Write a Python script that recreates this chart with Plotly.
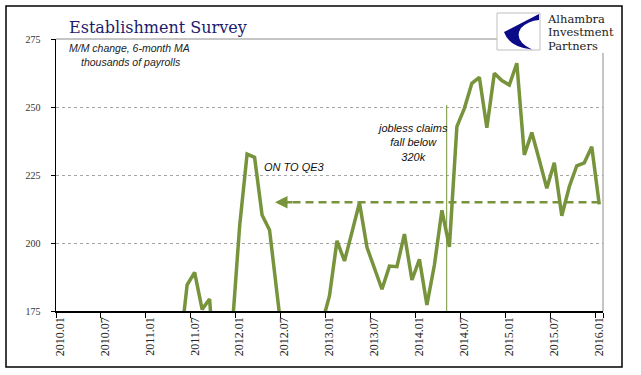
import plotly.graph_objects as go

# ---------------- data ----------------
months = [f"{2010 + k // 12}.{k % 12 + 1:02d}" for k in range(73)]
payroll_ma = [
    -95, -60, -20, 40, 95, 105, 110, 95, 60, 30, 25, 55,          # 2010
    100, 115, 135, 150, 160, 184.6, 189.2, 175.6, 179.4, 140, 150, 168,  # 2011
    206, 232.7, 231.5, 210.3, 204.8, 181, 158, 150, 145, 150, 160, 171,  # 2012
    180.6, 200.8, 193.4, 204, 214.8, 198.4, 191, 183, 191.5, 191.3, 203.3, 186.4,  # 2013
    194, 177.2, 191.9, 212, 198.6, 242.8, 249.5, 258.7, 260.9, 242.4, 262.4, 259.7,  # 2014
    258.1, 266.1, 232.4, 240.6, 230.5, 220.1, 229.5, 210, 220.7, 228.4, 229.5, 235.4,  # 2015
    214.2,  # 2016.01
]
tick_labels = ["2010.01", "2010.07", "2011.01", "2011.07", "2012.01", "2012.07",
               "2013.01", "2013.07", "2014.01", "2014.07", "2015.01", "2015.07", "2016.01"]
y_ticks = [175, 200, 225, 250, 275]
ref_level = 215          # dashed reference level
claims_index = 51.64     # position of "jobless claims" marker (category index)
qe3_index = 28.73        # arrow tip (category index)

GREEN = "#77933C"
W, H = 641, 375
L, R, T, B = 56, 38, 39, 64
PW, PH = W - L - R, H - T - B


def pxx(x):
    return (x - L) / PW


def pxy(y):
    return (H - B - y) / PH


fig = go.Figure()
fig.add_trace(go.Scatter(x=months, y=payroll_ma, mode="lines",
                         line=dict(color=GREEN, width=3.5), hoverinfo="skip"))

shapes = []
# outer frame
shapes.append(dict(type="rect", xref="paper", yref="paper", x0=pxx(6), x1=pxx(622),
                   y0=pxy(367), y1=pxy(6), line=dict(color="black", width=1.5), layer="below"))
# plot-area top & right border (gray)
shapes.append(dict(type="line", xref="paper", yref="paper", x0=0, x1=pxx(497), y0=1, y1=1,
                   line=dict(color="#8C8C8C", width=1)))
shapes.append(dict(type="line", xref="paper", yref="paper", x0=1, x1=1, y0=0, y1=pxy(53),
                   line=dict(color="#8C8C8C", width=1)))
# vertical marker line
shapes.append(dict(type="line", xref="x", yref="y", x0=claims_index, x1=claims_index,
                   y0=175, y1=250.7, line=dict(color=GREEN, width=1)))
# dashed reference line
shapes.append(dict(type="line", xref="x", yref="y", x0=qe3_index + 0.6, x1=len(months) - 1,
                   y0=ref_level, y1=ref_level, line=dict(color=GREEN, width=2.5, dash="8px,5px")))
# logo box
shapes.append(dict(type="rect", xref="paper", yref="paper", x0=pxx(497), x1=pxx(540),
                   y0=pxy(50), y1=pxy(13), fillcolor="white",
                   line=dict(color="#BFBFBF", width=1)))


def path(pts):
    segs = []
    for cmd, coords in pts:
        c = " ".join(f"{pxx(coords[i]):.5f},{pxy(coords[i + 1]):.5f}" for i in range(0, len(coords), 2))
        segs.append(f"{cmd} {c}")
    return " ".join(segs) + " Z"


logo_path = path([
    ("M", (539, 14)),
    ("L", (504, 32)),
    ("Q", (509, 47, 532, 49.5)),
    ("Q", (513, 40, 521, 28)),
    ("Q", (528, 21, 539, 20)),
])
shapes.append(dict(type="path", xref="paper", yref="paper", path=logo_path,
                   fillcolor="#0B0B8A", line=dict(width=0)))

logo_span = '<span style="font-size:11.5px">{}</span>'
logo_text = "<br>".join(logo_span.format(t) for t in ["Alhambra", "Investment", "Partners"])

annotations = [
    dict(text="Establishment Survey", x=pxx(67), y=pxy(28), xref="paper", yref="paper",
         xanchor="left", yanchor="middle", showarrow=False,
         font=dict(family="DejaVu Serif", size=16, color="#1C1C6E")),
    dict(text="<i>M/M change, 6-month MA</i>", x=pxx(67), y=pxy(48), xref="paper", yref="paper",
         xanchor="left", yanchor="middle", showarrow=False,
         font=dict(family="Liberation Sans", size=10.5, color="#222222")),
    dict(text="<i>thousands of payrolls</i>", x=pxx(79), y=pxy(62), xref="paper", yref="paper",
         xanchor="left", yanchor="middle", showarrow=False,
         font=dict(family="Liberation Sans", size=10.5, color="#222222")),
    dict(text="<i>ON TO QE3</i>", x=pxx(262), y=pxy(167), xref="paper", yref="paper",
         xanchor="left", yanchor="middle", showarrow=False,
         font=dict(family="Liberation Sans", size=11, color="#111111")),
    dict(text="<i>jobless claims<br>fall below<br>320k</i>", x=pxx(412), y=pxy(142),
         xref="paper", yref="paper", xanchor="center", yanchor="middle", align="center",
         showarrow=False, font=dict(family="Liberation Sans", size=11, color="#111111")),
    dict(text=logo_text, x=pxx(545), y=pxy(32.5), xref="paper", yref="paper",
         xanchor="left", yanchor="middle", align="left", showarrow=False,
         font=dict(family="DejaVu Serif", size=10.3, color="#222222")),
    # arrow head
    dict(text="", x=qe3_index, y=ref_level, ax=qe3_index + 2.5, ay=ref_level,
         xref="x", yref="y", axref="x", ayref="y", showarrow=True,
         arrowhead=2, arrowsize=1, arrowwidth=2.5, arrowcolor=GREEN),
]

fig.update_layout(
    width=W, height=H, autosize=False,
    margin=dict(l=L, r=R, t=T, b=B, pad=0),
    paper_bgcolor="white", plot_bgcolor="white",
    showlegend=False, hovermode=False,
    shapes=shapes, annotations=annotations,
    xaxis=dict(type="category", range=[-0.5, len(months) - 0.5],
               tickmode="array", tickvals=tick_labels, ticktext=tick_labels,
               tickson="boundaries", ticks="outside", ticklen=5, tickcolor="black",
               tickangle=-90, showline=True, linecolor="black", linewidth=1.5,
               showgrid=False, zeroline=False,
               tickfont=dict(family="Liberation Serif", size=12, color="#222222")),
    yaxis=dict(range=[175, 275], tickmode="array", tickvals=y_ticks,
               ticks="outside", ticklen=4, tickcolor="black", ticklabelstandoff=8,
               showline=True, linecolor="black", linewidth=1.5,
               showgrid=True, gridcolor="#A6A6A6", griddash="dot", gridwidth=1,
               zeroline=False,
               tickfont=dict(family="Liberation Serif", size=10, color="#333333")),
)

fig.write_html("out.html", config={"displayModeBar": False, "staticPlot": True},
               post_script="document.body.style.margin='0px';")
